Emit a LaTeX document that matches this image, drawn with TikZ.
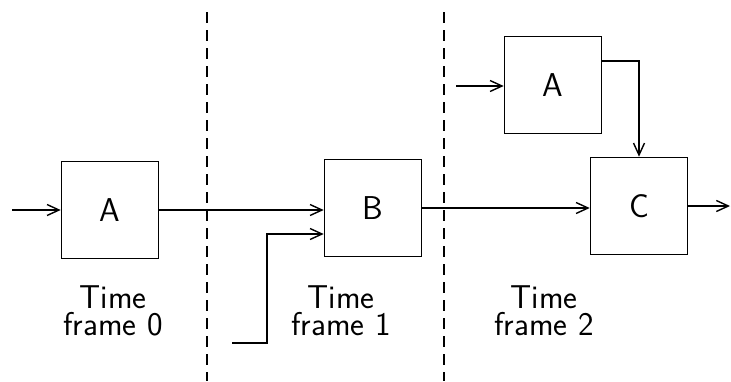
\documentclass[tikz,border=0pt]{standalone}
\usetikzlibrary{arrows.meta}
\begin{document}
\begin{tikzpicture}[x=0.5pt,y=-0.5pt,
  blk/.style={draw,line width=0.8pt,minimum width=48.5pt,minimum height=48.5pt,inner sep=0pt,font=\sffamily\fontsize{16.5}{13.5}\selectfont},
  lbl/.style={align=center,inner sep=0pt,font=\sffamily\fontsize{16.5}{13.5}\selectfont},
  wire/.style={line width=0.7pt,-{Straight Barb[length=6pt,width=5.5pt,line width=0.7pt]}},
  sep/.style={line width=0.8pt,dash pattern=on 5.5pt off 3.5pt}]
\useasboundingbox (0,0) rectangle (731,381);
% separators
\coordinate (s1t) at (207,12); \coordinate (s1b) at (207,381);
\coordinate (s2t) at (444,12); \coordinate (s2b) at (444,381);
\draw[sep] (s1t) -- (s1b);
\draw[sep] (s2t) -- (s2b);
% blocks
\node[blk] (A0) at (110,210) {A};
\node[blk] (B) at (373,208) {B};
\node[blk] (C) at (639,206) {C};
\node[blk] (A2) at (553,85) {A};
% labels
\node[lbl] (L0) at (113,311) {Time\\frame 0};
\node[lbl] (L1) at (341,311) {Time\\frame 1};
\node[lbl] (L2) at (544,311) {Time\\frame 2};
% connectors
\coordinate (in0) at (12,210);
\draw[wire] (in0) -- (A0.west);
\draw[wire] (A0.east) -- (A0.east -| B.west);
\coordinate (in1) at (232,343);
\coordinate (in1k) at (267,234);
\draw[wire] (in1) -- (in1 -| in1k) -- (in1k) -- (in1k -| B.west);
\draw[wire] (B.east) -- (B.east -| C.west);
\coordinate (out) at (730,206);
\draw[wire] (C.east) -- (out);
\coordinate (in2) at (456,86);
\draw[wire] (in2) -- (in2 -| A2.west);
\coordinate (a2o) at (602,61);
\draw[wire] (a2o) -| (C.north);
\end{tikzpicture}
\end{document}
